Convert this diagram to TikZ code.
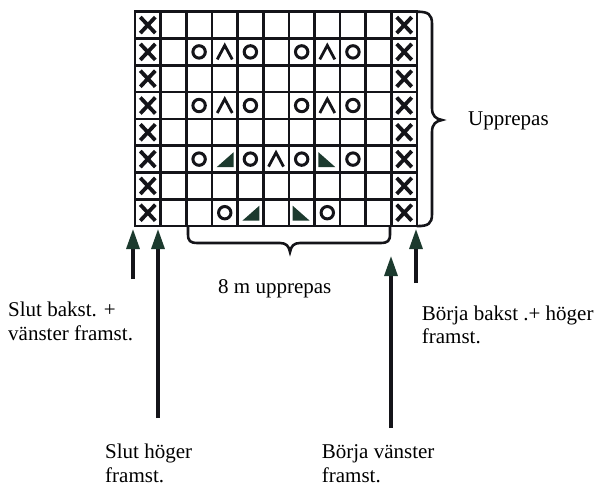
\documentclass[tikz,border=0pt]{standalone}
\usepackage{fontspec}
\setmainfont{Liberation Serif}
\usetikzlibrary{arrows.meta}
\definecolor{headgreen}{RGB}{28,58,46}
\definecolor{ink}{RGB}{20,20,25}
\begin{document}
\begin{tikzpicture}[x=1pt,y=-1pt,
  gridline/.style={line width=2.6pt, draw=ink, line cap=rect},
  lbl/.style={font=\fontsize{21}{23.3}\selectfont, inner sep=0pt, anchor=base west, align=left},
  uparrow/.style={draw=ink, line width=3.2pt, -{Triangle[length=20pt,width=13pt,color=headgreen]}},
  brace/.style={draw=ink, line width=2.6pt, line cap=round},
  xsym/.pic={\draw[line width=3.8pt, draw=ink] (-7.5,-8) -- (7.5,8) (-7.5,8) -- (7.5,-8);},
  osym/.pic={\draw[line width=3pt, draw=ink] (0,0) circle[radius=6.2pt];},
  csym/.pic={\draw[line width=2.8pt, draw=ink, line join=miter] (-7.5,7.5) -- (0,-6.5) -- (7.5,7.5);},
  lsym/.pic={\fill[headgreen] (9,-7) -- (9,8) -- (-8,8) -- cycle;},
  rsym/.pic={\fill[headgreen] (-9,-7) -- (-9,8) -- (8,8) -- cycle;}]
\useasboundingbox (0,0) rectangle (597,488);
\def\gl{135}\def\gt{11.7}\def\cw{25.64}\def\rh{26.8}
% grid
\foreach \i in {0,...,11} \draw[gridline] ({\gl+\i*\cw},\gt) -- ({\gl+\i*\cw},{\gt+8*\rh});
\foreach \j in {0,...,8} \draw[gridline] (\gl,{\gt+\j*\rh}) -- ({\gl+11*\cw},{\gt+\j*\rh});
% symbols
\foreach \r in {1,...,8} {
  \pic at ({\gl+0.5*\cw},{\gt+(\r-0.5)*\rh}) {xsym};
  \pic at ({\gl+10.5*\cw},{\gt+(\r-0.5)*\rh}) {xsym};
}
\foreach \c/\r in {3/2,5/2,7/2,9/2,3/4,5/4,7/4,9/4,3/6,5/6,7/6,9/6,4/8,8/8}
  \pic at ({\gl+(\c-0.5)*\cw},{\gt+(\r-0.5)*\rh}) {osym};
\foreach \c/\r in {4/2,8/2,4/4,8/4,6/6}
  \pic at ({\gl+(\c-0.5)*\cw},{\gt+(\r-0.5)*\rh}) {csym};
\foreach \c/\r in {4/6,5/8}
  \pic at ({\gl+(\c-0.5)*\cw},{\gt+(\r-0.5)*\rh}) {lsym};
\foreach \c/\r in {8/6,7/8}
  \pic at ({\gl+(\c-0.5)*\cw},{\gt+(\r-0.5)*\rh}) {rsym};
% braces
\draw[brace] (417,11.7) .. controls (428,11.7) and (432,14) .. (432,24) -- (432,108)
  .. controls (432,116) and (436,119) .. (442,120) .. controls (436,121) and (432,124) .. (432,132)
  -- (432,214) .. controls (432,224) and (428,226.1) .. (417,226.1);
\draw[brace] (188,227) -- (188,234) .. controls (188,241) and (190,243) .. (198,243) -- (280,243)
  .. controls (286,243) and (289,246) .. (290,252) .. controls (291,246) and (294,243) .. (300,243)
  -- (380,243) .. controls (388,243) and (390,241) .. (390,234) -- (390,227);
% arrows
\coordinate (a1s) at (133,279); \coordinate (a1t) at (133,229);
\coordinate (a2s) at (158,418); \coordinate (a2t) at (158,229);
\coordinate (a3s) at (391,428); \coordinate (a3t) at (391,256);
\coordinate (a4s) at (416,283); \coordinate (a4t) at (416,229);
\draw[uparrow] (a1s) -- (a1t);
\draw[uparrow] (a2s) -- (a2t);
\draw[uparrow] (a3s) -- (a3t);
\draw[uparrow] (a4s) -- (a4t);
% labels (base anchor = baseline of the last line)
\node[lbl] (t1) at (8,340) {Slut bakst. +\\vänster framst.};
\node[lbl] (t2) at (105,482) {Slut höger\\framst.};
\node[lbl] (t3) at (321.7,482) {Börja vänster\\framst.};
\node[lbl] (t4) at (421.7,343.3) {Börja bakst .+ höger\\framst.};
\node[lbl] (t5) at (468,125) {Upprepas};
\node[lbl] (t6) at (218,293.3) {8 m upprepas};
\end{tikzpicture}
\end{document}
